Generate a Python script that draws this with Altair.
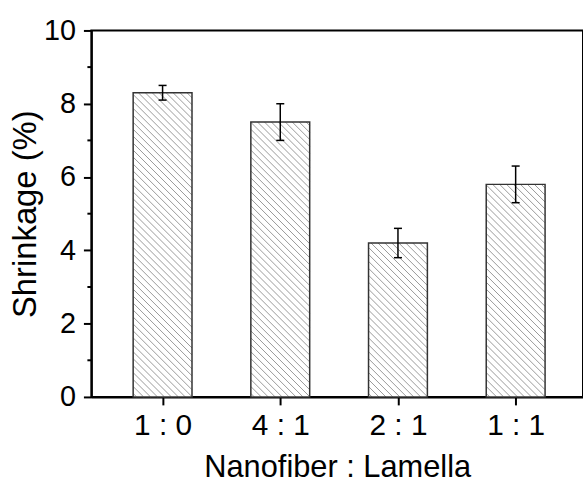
import altair as alt
import pandas as pd

# ---- data ----
categories = ["1 : 0", "4 : 1", "2 : 1", "1 : 1"]
positions = [1, 2, 3, 4]
shrinkage = [8.3, 7.5, 4.2, 5.8]
errors = [0.2, 0.5, 0.4, 0.5]
y_major = [0, 2, 4, 6, 8, 10]
y_minor = [1, 3, 5, 7, 9]

# ---- layout / style constants ----
W, H = 495, 369
X_MIN, X_MAX = 0.395, 0.395 + 495 / 118.5
Y_MIN, Y_MAX = 0, 10
BAR_W = 0.5
CAP = 0.034
HATCH_STEP = 7.0
FONT = "Liberation Sans"

sx = W / (X_MAX - X_MIN)
sy = H / (Y_MAX - Y_MIN)

bars = pd.DataFrame({
    "pos": positions,
    "cat": categories,
    "val": shrinkage,
    "err": errors,
})
bars["left"] = bars["pos"] - BAR_W / 2
bars["right"] = bars["pos"] + BAR_W / 2
bars["lo"] = bars["val"] - bars["err"]
bars["hi"] = bars["val"] + bars["err"]
bars["capl"] = bars["pos"] - CAP
bars["capr"] = bars["pos"] + CAP
bars["zero"] = 0.0

# hatch segments ("\" direction) inside each bar, derived from bar data
rows = []
for _, b in bars.iterrows():
    bw = BAR_W * sx
    bh = b["val"] * sy
    k = HATCH_STEP / 2
    while k < bw + bh:
        u0 = max(0.0, k - bh)
        u1 = min(bw, k)
        v0 = k - u0
        v1 = k - u1
        rows.append({
            "x": b["left"] + u0 / sx, "y": v0 / sy,
            "x2": b["left"] + u1 / sx, "y2": v1 / sy,
        })
        k += HATCH_STEP
hatch = pd.DataFrame(rows)
minor = pd.DataFrame({"v": y_minor})

label_expr = "{" + ",".join(f"'{p}': '{c}'" for p, c in zip(positions, categories)) + "}[datum.value]"

xscale = alt.Scale(domain=[X_MIN, X_MAX], nice=False, zero=False)
yscale = alt.Scale(domain=[Y_MIN, Y_MAX], nice=False)

xaxis = alt.Axis(
    values=positions, labelExpr=label_expr, title="Nanofiber : Lamella",
    grid=False, tickSize=8, tickWidth=2, tickColor="black",
    domainColor="black", domainWidth=2,
    labelFontSize=30, labelFont=FONT, labelColor="black", labelPadding=6,
    titleFontSize=31, titleFont=FONT, titleFontWeight="normal", titleColor="black",
    titlePadding=12,
)
yaxis = alt.Axis(
    values=y_major, title="Shrinkage (%)",
    grid=False, tickSize=8, tickWidth=2, tickColor="black",
    domainColor="black", domainWidth=2,
    labelFontSize=29, labelFont=FONT, labelColor="black", labelPadding=8,
    titleFontSize=33, titleFont=FONT, titleFontWeight="normal", titleColor="black",
    titleX=-49,
)

base = alt.Chart(bars)

fill = base.mark_rect(fill="white", stroke=None).encode(
    x=alt.X("left:Q", scale=xscale, axis=xaxis),
    x2="right:Q",
    y=alt.Y("zero:Q", scale=yscale, axis=yaxis),
    y2="val:Q",
)

hatch_layer = alt.Chart(hatch).mark_rule(color="#999999", strokeWidth=1).encode(
    x=alt.X("x:Q", scale=xscale),
    y=alt.Y("y:Q", scale=yscale),
    x2="x2:Q",
    y2="y2:Q",
)

outline = base.mark_rect(fill=None, filled=False, stroke="#333333", strokeWidth=1.5).encode(
    x=alt.X("left:Q", scale=xscale),
    x2="right:Q",
    y=alt.Y("zero:Q", scale=yscale),
    y2="val:Q",
)

err_v = base.mark_rule(color="black", strokeWidth=1.5).encode(
    x=alt.X("pos:Q", scale=xscale),
    y=alt.Y("lo:Q", scale=yscale),
    y2="hi:Q",
)
cap_hi = base.mark_rule(color="black", strokeWidth=1.5).encode(
    x=alt.X("capl:Q", scale=xscale),
    x2="capr:Q",
    y=alt.Y("hi:Q", scale=yscale),
)
cap_lo = base.mark_rule(color="black", strokeWidth=1.5).encode(
    x=alt.X("capl:Q", scale=xscale),
    x2="capr:Q",
    y=alt.Y("lo:Q", scale=yscale),
)

minor_ticks = alt.Chart(minor).mark_rule(color="black", strokeWidth=2).encode(
    y=alt.Y("v:Q", scale=yscale),
    x=alt.value(-4),
    x2=alt.value(0),
)

chart = alt.layer(fill, hatch_layer, outline, err_v, cap_hi, cap_lo, minor_ticks).properties(
    width=W, height=H,
    autosize=alt.AutoSizeParams(type="none"),
    padding={"left": 92, "top": 29, "right": 0, "bottom": 86},
    background="white",
).configure_view(stroke="black", strokeWidth=2)

chart.save("out.html", embed_options={"renderer": "svg", "actions": False})
